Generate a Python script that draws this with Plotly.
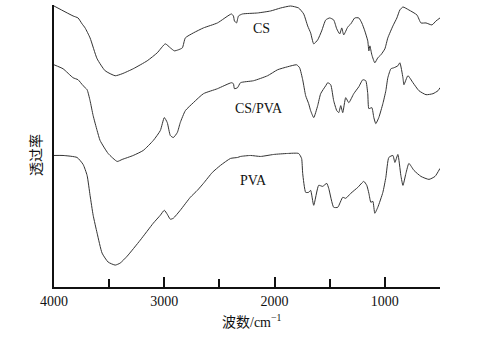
import plotly.graph_objects as go

# Wavenumber (cm^-1) and transmittance (arbitrary units, offset stacked)
cs_wn = [4000, 3827, 3782, 3745, 3718, 3673, 3609, 3536, 3445, 3382, 3282, 3155, 3064, 2991, 2945, 2909,
         2873, 2836, 2809, 2736, 2645, 2518, 2391, 2373, 2364, 2345, 2327, 2291, 2155, 2036, 1945, 1855,
         1782, 1736, 1700, 1673, 1645, 1609, 1573, 1536, 1500, 1464, 1436, 1409, 1391, 1373, 1336, 1309,
         1273, 1236, 1209, 1182, 1155, 1145, 1136, 1118, 1091, 1064, 1036, 1000, 973, 927, 891, 864,
         836, 782, 709, 673, 627, 573, 536, 500]
cs_t = [282, 272, 270, 264, 260, 250, 229, 217, 212, 214, 219, 227, 235, 244, 240, 237,
        238, 240, 250, 255, 260, 265, 274, 272, 267, 265, 272, 274, 275, 277, 280, 282,
        280, 274, 262, 255, 244, 248, 257, 268, 270, 268, 259, 254, 260, 253, 261, 264,
        270, 270, 265, 257, 247, 237, 242, 233, 225, 230, 233, 239, 250, 262, 270, 278,
        281, 278, 273, 265, 265, 263, 267, 270]

cspva_wn = [4000, 3918, 3827, 3782, 3736, 3700, 3673, 3645, 3609, 3582, 3509, 3427, 3382, 3282, 3191, 3100,
            3036, 3000, 2973, 2945, 2918, 2882, 2855, 2809, 2736, 2645, 2518, 2391, 2373, 2364, 2336, 2309,
            2191, 2064, 1973, 1882, 1800, 1773, 1745, 1718, 1691, 1673, 1645, 1609, 1582, 1536, 1518, 1491,
            1464, 1436, 1418, 1400, 1382, 1355, 1327, 1282, 1236, 1200, 1173, 1155, 1145, 1118, 1100, 1082,
            1055, 1018, 991, 973, 945, 918, 882, 864, 836, 827, 791, 745, 691, 627, 564, 518, 500]
cspva_t = [223, 219, 210, 208, 202, 198, 187, 172, 157, 147, 134, 126, 128, 132, 137, 147,
           157, 170, 165, 152, 150, 155, 165, 177, 185, 194, 199, 205, 204, 199, 200, 205,
           207, 212, 218, 221, 223, 220, 208, 192, 184, 177, 170, 182, 194, 202, 205, 203,
           187, 177, 175, 182, 175, 190, 185, 194, 201, 208, 207, 194, 179, 180, 170, 164,
           170, 184, 197, 210, 219, 220, 222, 225, 210, 203, 212, 205, 197, 193, 194, 197, 200]

pva_wn = [4000, 3918, 3791, 3736, 3700, 3673, 3645, 3609, 3564, 3509, 3445, 3400, 3336, 3218, 3100, 3036,
          3000, 2973, 2945, 2918, 2855, 2764, 2700, 2645, 2564, 2491, 2400, 2336, 2309, 2218, 2127, 2009,
          1882, 1782, 1755, 1745, 1718, 1691, 1673, 1645, 1600, 1564, 1527, 1509, 1464, 1427, 1382, 1355,
          1309, 1245, 1191, 1164, 1145, 1127, 1109, 1091, 1064, 1018, 991, 964, 927, 909, 882, 855,
          836, 809, 782, 736, 673, 600, 545, 500]
pva_t = [132, 132, 130, 123, 112, 92, 72, 54, 34, 25, 22, 24, 31, 47, 64, 72,
         77, 73, 68, 69, 77, 90, 97, 104, 115, 122, 129, 130, 131, 132, 131, 133,
         134, 134, 129, 114, 95, 95, 97, 82, 102, 101, 104, 99, 80, 80, 90, 89,
         94, 100, 106, 102, 94, 85, 86, 74, 80, 95, 110, 130, 132, 125, 133, 112,
         102, 114, 124, 117, 111, 108, 111, 119]

labels = ["CS", "CS/PVA", "PVA"]
label_wn = [2118, 2145, 2190]
label_t = [259, 179, 107]

FONT = "Liberation Serif, 'Noto Sans CJK SC', serif"
LINE = dict(color="#333333", width=1, shape="spline", smoothing=0.5)

fig = go.Figure()
for wn, t in [(cs_wn, cs_t), (cspva_wn, cspva_t), (pva_wn, pva_t)]:
    fig.add_trace(go.Scatter(x=wn, y=t, mode="lines", line=LINE, showlegend=False, hoverinfo="skip"))

for txt, xw, yt in zip(labels, label_wn, label_t):
    fig.add_annotation(x=xw, y=yt, text=txt, showarrow=False, xanchor="center", yanchor="middle",
                       font=dict(family=FONT, size=14, color="#111111"))

fig.add_annotation(xref="paper", yref="paper", x=0.513, y=-0.12, text="波数/cm<sup>−1</sup>",
                   showarrow=False, xanchor="center", yanchor="middle",
                   font=dict(family=FONT, size=14, color="#111111"))
fig.add_annotation(xref="paper", yref="paper", x=-0.047, y=0.468, text="透过率", textangle=-90,
                   showarrow=False, xanchor="center", yanchor="middle",
                   font=dict(family=FONT, size=14, color="#111111"))

fig.update_layout(
    width=479, height=337,
    margin=dict(l=54, r=39, t=5, b=50),
    paper_bgcolor="white", plot_bgcolor="white",
    font=dict(family=FONT, size=14, color="#111111"),
)
fig.update_xaxes(range=[4000, 500], showgrid=False, zeroline=False,
                 showline=True, linecolor="#111111", linewidth=1.5,
                 ticks="inside", ticklen=10, tickwidth=1.5, tickcolor="#111111",
                 tick0=0, dtick=1000,
                 minor=dict(ticks="inside", ticklen=8, tickwidth=1.5, tickcolor="#111111", dtick=500, showgrid=False),
                 tickfont=dict(family=FONT, size=14, color="#111111"))
fig.update_yaxes(range=[0, 283], showgrid=False, zeroline=False, showticklabels=False,
                 showline=True, linecolor="#111111", linewidth=1.5, ticks="")

fig.write_html("out.html", config={"displayModeBar": False},
               post_script="document.body.style.margin='0';document.body.style.padding='0';")
